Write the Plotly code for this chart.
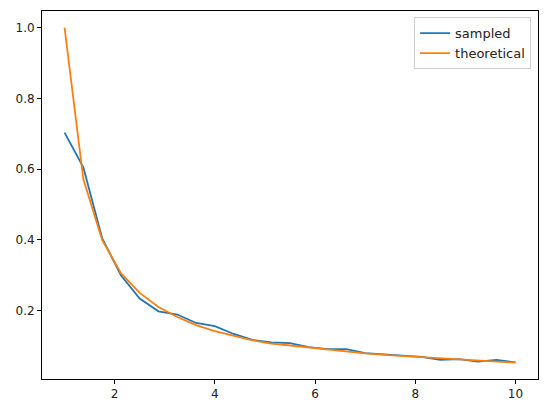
import numpy as np
import plotly.graph_objects as go

# 25 evenly spaced points between 1 and 10
x_vals = [1.0, 1.375, 1.75, 2.125, 2.5, 2.875, 3.25, 3.625, 4.0, 4.375, 4.75, 5.125,
          5.5, 5.875, 6.25, 6.625, 7.0, 7.375, 7.75, 8.125, 8.5, 8.875, 9.25, 9.625, 10.0]

sampled = [0.703, 0.605, 0.405, 0.300, 0.234, 0.198, 0.189, 0.165, 0.156, 0.134, 0.117,
           0.110, 0.108, 0.097, 0.091, 0.091, 0.080, 0.077, 0.074, 0.069, 0.061, 0.063,
           0.056, 0.061, 0.054]

theoretical = [1.0, 0.572, 0.400, 0.306, 0.250, 0.210, 0.182, 0.159, 0.142, 0.130, 0.116,
               0.107, 0.101, 0.095, 0.089, 0.085, 0.079, 0.075, 0.072, 0.068, 0.064, 0.061,
               0.058, 0.056, 0.053]

x_ticks = [2, 4, 6, 8, 10]
y_ticks = [0.2, 0.4, 0.6, 0.8, 1.0]

fig = go.Figure()
fig.add_trace(go.Scatter(x=x_vals, y=sampled, mode='lines', name='sampled',
                         line=dict(color='#1f77b4', width=1.8)))
fig.add_trace(go.Scatter(x=x_vals, y=theoretical, mode='lines', name='theoretical',
                         line=dict(color='#ff7f0e', width=1.8)))

axis_style = dict(
    showgrid=False,
    zeroline=False,
    showline=True,
    linecolor='black',
    linewidth=1,
    mirror=True,
    ticks='outside',
    ticklen=4,
    tickwidth=1,
    tickcolor='black',
    tickfont=dict(family='DejaVu Sans', size=12, color='#222'),
)

fig.update_xaxes(range=[0.55, 10.45], tickvals=x_ticks,
                 ticktext=[str(t) for t in x_ticks], **axis_style)
fig.update_yaxes(range=[0.0067, 1.047], tickvals=y_ticks,
                 ticktext=['%.1f' % t for t in y_ticks], **axis_style)

fig.update_layout(
    width=547,
    height=413,
    margin=dict(l=42, r=9, t=11, b=34),
    plot_bgcolor='white',
    paper_bgcolor='white',
    font=dict(family='DejaVu Sans', size=12, color='#222'),
    legend=dict(
        x=0.986, y=0.983, xanchor='right', yanchor='top',
        bgcolor='rgba(255,255,255,0.8)',
        bordercolor='#d0d0d0', borderwidth=1,
        itemwidth=30,
        font=dict(family='DejaVu Sans', size=13, color='#222'),
        tracegroupgap=0,
    ),
)

# drop the browser's default body margin so the figure sits at the page corner
fig.write_html("out.html", config={'displayModeBar': False},
               post_script="document.body.style.margin='0';")
